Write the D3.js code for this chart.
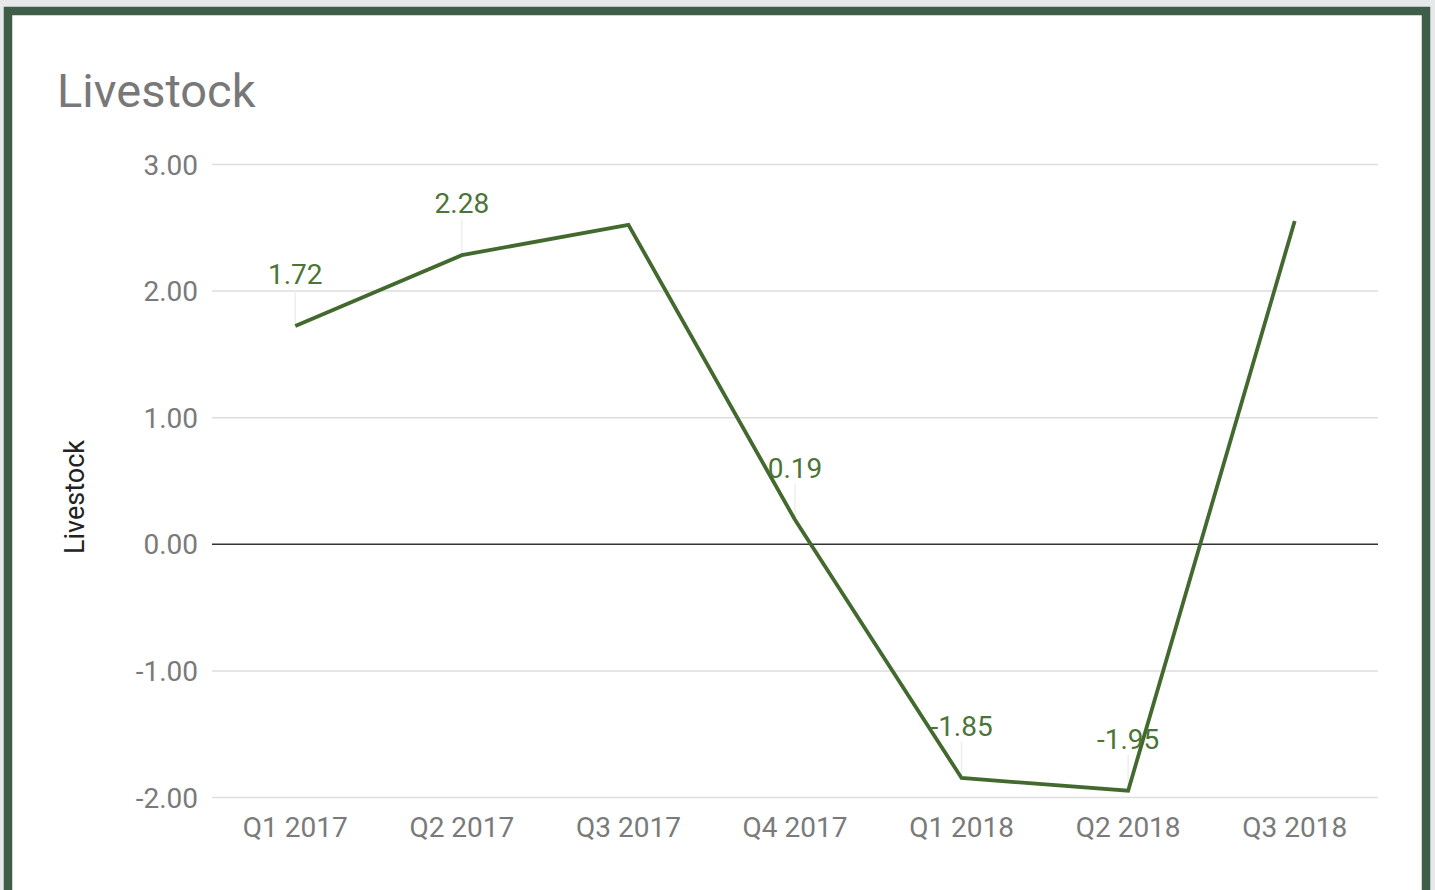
<!DOCTYPE html>
<html>
<head>
<meta charset="utf-8">
<script src="https://cdn.jsdelivr.net/npm/d3@7"></script>
<style>
  html, body { margin: 0; padding: 0; background: #e6e8e9; }
  svg { display: block; font-family: Roboto, "Noto Sans", sans-serif; }
</style>
</head>
<body>
<svg id="chart" width="1435" height="890"></svg>
<script>
(function () {
const categories = ["Q1 2017", "Q2 2017", "Q3 2017", "Q4 2017", "Q1 2018", "Q2 2018", "Q3 2018"];
const values = [1.72, 2.28, 2.52, 0.19, -1.85, -1.95, 2.55];
const labelled = [true, true, false, true, true, true, false];
const yTicks = [3, 2, 1, 0, -1, -2];
const title = "Livestock";
const yTitle = "Livestock";

const fmt = d3.formatLocale({ decimal: ".", thousands: ",", grouping: [3], currency: ["", ""], minus: "-" }).format(".2f");

const svg = d3.select("#chart");

// frame
svg.append("rect").attr("x", 8).attr("y", 11).attr("width", 1418).attr("height", 900)
  .attr("fill", "#ffffff").attr("stroke", "#3f5e49").attr("stroke-width", 8.5);

const pLeft = 212, pRight = 1378, pTop = 164, pBottom = 797;
const x = d3.scaleBand().domain(categories).range([pLeft, pRight]).padding(0);
const y = d3.scaleLinear().domain([-2, 3]).range([pBottom, pTop]);

// title
svg.append("text").attr("x", 57).attr("y", 107).attr("font-size", 47)
  .attr("fill", "#787878").text(title);

// y gridlines
const yAxis = d3.axisLeft(y).tickValues(yTicks).tickFormat(fmt)
  .tickSize(-(pRight - pLeft)).tickPadding(14);
const gy = svg.append("g").attr("transform", `translate(${pLeft},0)`).call(yAxis);
gy.select(".domain").remove();
gy.selectAll(".tick line").attr("stroke", d => d === 0 ? "#333333" : "#dddddd")
  .attr("stroke-width", 1.5);
gy.selectAll(".tick text").attr("font-size", 28).attr("fill", "#7a7a7a")
  .attr("font-family", "Roboto, sans-serif").attr("dy", "0.36em");

// x labels
const xAxis = d3.axisBottom(x).tickSize(0).tickPadding(20);
const gx = svg.append("g").attr("transform", `translate(0,${pBottom})`).call(xAxis);
gx.select(".domain").remove();
gx.selectAll(".tick text").attr("font-size", 28).attr("fill", "#7a7a7a")
  .attr("font-family", "Roboto, sans-serif");

// y title
svg.append("text").attr("transform", `translate(84,497) rotate(-90)`)
  .attr("text-anchor", "middle").attr("font-size", 27).attr("fill", "#222222")
  .text(yTitle);

const cx = d => x(d) + x.bandwidth() / 2;
const data = categories.map((c, i) => ({ c, v: values[i], lab: labelled[i] }));

// stems
svg.append("g").selectAll("line").data(data.filter(d => d.lab)).join("line")
  .attr("x1", d => cx(d.c)).attr("x2", d => cx(d.c))
  .attr("y1", d => y(d.v) - 36).attr("y2", d => y(d.v))
  .attr("stroke", "#eeeeee").attr("stroke-width", 1.5);

// line
const line = d3.line().x(d => cx(d.c)).y(d => y(d.v));
svg.append("path").datum(data).attr("d", line).attr("fill", "none")
  .attr("stroke", "#436a2e").attr("stroke-width", 3.8).attr("stroke-linejoin", "miter");

// labels
svg.append("g").selectAll("text").data(data.filter(d => d.lab)).join("text")
  .attr("x", d => cx(d.c)).attr("y", d => y(d.v) - 42)
  .attr("text-anchor", "middle").attr("font-size", 28).attr("fill", "#4b7536")
  .text(d => fmt(d.v));
})();
</script>
</body>
</html>
